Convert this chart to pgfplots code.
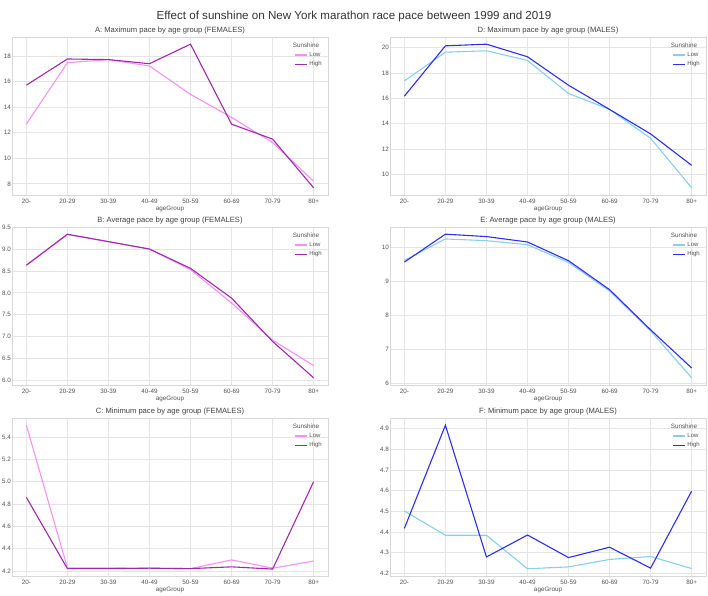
\documentclass[border=0pt]{standalone}
\usepackage{pgfplots}
\pgfplotsset{compat=1.18}
\usepackage{fontspec}
\setmainfont{Liberation Sans}
\definecolor{flow}{RGB}{245,145,245}
\definecolor{fhigh}{RGB}{160,40,170}
\definecolor{mlow}{RGB}{135,206,240}
\definecolor{mhigh}{RGB}{45,45,245}
\definecolor{gridc}{RGB}{228,228,228}
\definecolor{framec}{RGB}{215,215,215}
\definecolor{txt}{RGB}{80,80,80}
\pgfplotsset{
  panel/.style={
    scale only axis, width=316pt, height=158pt, anchor=north west,
    xmin=-0.35, xmax=7.35, xtick={0,...,7},
    xticklabels={20-,20-29,30-39,40-49,50-59,60-69,70-79,80+},
    grid=major, major grid style={gridc, line width=0.8pt},
    axis line style={framec, line width=0.8pt},
    tick style={draw=none},
    /pgf/number format/assume math mode=true,
    ticklabel style={font=\fontsize{6.3}{7}\selectfont, text=txt},
    xticklabel style={inner sep=1pt, yshift=-3pt},
    yticklabel style={inner sep=1pt},
    xlabel={ageGroup},
    xlabel style={font=\fontsize{6.3}{7}\selectfont, text=txt, inner sep=0pt,
      at={(rel axis cs:0.5,0)}, anchor=north, yshift=-11pt},
    title style={font=\fontsize{7.6}{9}\selectfont, text=black!75, inner sep=1pt, yshift=-4pt},
    legend style={draw=none, fill=none, at={(1,1)}, anchor=north east, xshift=-4pt, yshift=-13pt,
      font=\fontsize{6}{7}\selectfont, text=txt, inner sep=0pt, row sep=-0.3pt},
    legend cell align=left,
    legend image code/.code={\draw[#1, line width=1.1pt] (0pt,0pt) -- (12pt,0pt);},
  },
  sun/.style={after end axis/.code={
    \node[font=\fontsize{6.3}{7}\selectfont, text=txt] at ([xshift=-22pt,yshift=-8.5pt]rel axis cs:1,1) {Sunshine};}},
}
\begin{document}
\begin{tikzpicture}
\useasboundingbox (0,0) rectangle (708pt,595pt);
\node[font=\fontsize{11.6}{13}\selectfont, text=black!80] at (354pt,578pt) {Effect of sunshine on New York marathon race pace between 1999 and 2019};

% A
\begin{axis}[panel, sun, at={(12pt,558pt)}, ymin=7.128, ymax=19.49, ytick={8,10,...,18},
  title={A: Maximum pace by age group (FEMALES)}]
\addplot[color=flow, line width=1.1pt] coordinates {(0,12.67) (1,17.48) (2,17.72) (3,17.22) (4,15.0) (5,13.2) (6,11.23) (7,8.2)};
\addplot[color=fhigh, line width=1.1pt] coordinates {(0,15.72) (1,17.77) (2,17.72) (3,17.4) (4,18.93) (5,12.67) (6,11.5) (7,7.69)};
\legend{Low,High}
\end{axis}

% B
\begin{axis}[panel, sun, at={(12pt,368pt)}, ymin=5.896, ymax=9.504, ytick={6,6.5,...,9.5},
  yticklabel style={/pgf/number format/.cd, fixed, fixed zerofill, precision=1},
  title={B: Average pace by age group (FEMALES)}]
\addplot[color=flow, line width=1.1pt] coordinates {(0,8.634) (1,9.33) (2,9.17) (3,9.0) (4,8.53) (5,7.77) (6,6.92) (7,6.34)};
\addplot[color=fhigh, line width=1.1pt] coordinates {(0,8.63) (1,9.34) (2,9.17) (3,9.0) (4,8.56) (5,7.88) (6,6.89) (7,6.06)};
\legend{Low,High}
\end{axis}

% C
\begin{axis}[panel, sun, at={(12pt,177pt)}, ymin=4.156, ymax=5.57, ytick={4.2,4.4,...,5.41},
  yticklabel style={/pgf/number format/.cd, fixed, fixed zerofill, precision=1},
  title={C: Minimum pace by age group (FEMALES)}]
\addplot[color=flow, line width=1.1pt] coordinates {(0,5.506) (1,4.228) (2,4.228) (3,4.226) (4,4.222) (5,4.30) (6,4.226) (7,4.29)};
\addplot[color=fhigh, line width=1.1pt] coordinates {(0,4.86) (1,4.222) (2,4.222) (3,4.226) (4,4.222) (5,4.238) (6,4.218) (7,5.0)};
\legend{Low,High}
\end{axis}

% D
\begin{axis}[panel, sun, at={(390pt,558pt)}, ymin=8.395, ymax=20.825, ytick={10,12,...,20},
  title={D: Maximum pace by age group (MALES)}]
\addplot[color=mlow, line width=1.1pt] coordinates {(0,17.37) (1,19.63) (2,19.74) (3,18.98) (4,16.38) (5,15.13) (6,12.86) (7,8.96)};
\addplot[color=mhigh, line width=1.1pt] coordinates {(0,16.17) (1,20.13) (2,20.26) (3,19.27) (4,17.03) (5,15.13) (6,13.2) (7,10.73)};
\legend{Low,High}
\end{axis}

% E
\begin{axis}[panel, sun, at={(390pt,368pt)}, ymin=5.949, ymax=10.591, ytick={6,7,...,10},
  title={E: Average pace by age group (MALES)}]
\addplot[color=mlow, line width=1.1pt] coordinates {(0,9.61) (1,10.24) (2,10.19) (3,10.07) (4,9.55) (5,8.71) (6,7.54) (7,6.16)};
\addplot[color=mhigh, line width=1.1pt] coordinates {(0,9.56) (1,10.38) (2,10.31) (3,10.15) (4,9.6) (5,8.75) (6,7.57) (7,6.45)};
\legend{Low,High}
\end{axis}

% F
\begin{axis}[panel, sun, at={(390pt,177pt)}, ymin=4.188, ymax=4.951, ytick={4.2,4.3,...,4.91},
  yticklabel style={/pgf/number format/.cd, fixed, fixed zerofill, precision=1},
  title={F: Minimum pace by age group (MALES)}]
\addplot[color=mlow, line width=1.1pt] coordinates {(0,4.502) (1,4.385) (2,4.385) (3,4.223) (4,4.232) (5,4.268) (6,4.282) (7,4.224)};
\addplot[color=mhigh, line width=1.1pt] coordinates {(0,4.418) (1,4.916) (2,4.280) (3,4.386) (4,4.277) (5,4.327) (6,4.226) (7,4.598)};
\legend{Low,High}
\end{axis}
\end{tikzpicture}
\end{document}
